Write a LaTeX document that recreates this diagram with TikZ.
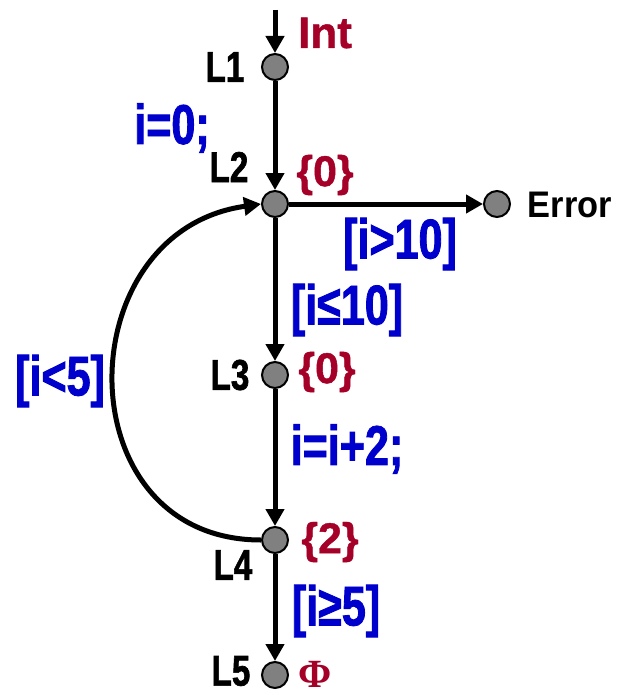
\documentclass[tikz,border=0pt]{standalone}
\usepackage{fontspec}
\setmainfont{Liberation Sans}
\newfontfamily\narfont{Liberation Sans}[FakeStretch=0.77,FakeBold=1.5]
\newfontfamily\midfont{Liberation Sans}[FakeStretch=0.93]
\newfontfamily\redfont{Liberation Sans}[FakeBold=1]
\newfontfamily\phifont{Liberation Serif}
\usetikzlibrary{arrows.meta}
\definecolor{dred}{RGB}{165,0,40}
\definecolor{dblue}{RGB}{0,0,205}
\definecolor{dotgray}{RGB}{128,128,128}
\tikzset{
  dot/.style={circle,draw=black,fill=dotgray,line width=2pt,minimum size=26pt,inner sep=0pt},
  edge/.style={line width=5pt,-{Triangle[length=17pt,width=18pt]}},
  loclab/.style={inner sep=0pt,font=\narfont\bfseries\fontsize{43}{43}\selectfont},
  guard/.style={inner sep=0pt,text=dblue,font=\narfont\bfseries\fontsize{56}{56}\selectfont},
  setlab/.style={inner sep=0pt,text=dred,font=\redfont\bfseries\fontsize{43}{43}\selectfont},
}
\begin{document}
\begin{tikzpicture}[x=1pt,y=-1pt]
\useasboundingbox (0,0) rectangle (618,695);
\node[dot] (L1) at (275,67) {};
\node[dot] (L2) at (275,204) {};
\node[dot] (L3) at (275,375) {};
\node[dot] (L4) at (275,540) {};
\node[dot] (L5) at (275,675) {};
\node[dot] (Err) at (497,204) {};
\coordinate (top) at (275,10);

\draw[edge] (top) -- (L1);
\draw[edge] (L1) -- (L2);
\draw[edge] (L2) -- (Err);
\draw[edge] (L2) -- (L3);
\draw[edge] (L3) -- (L4);
\draw[edge] (L4) -- (L5);
\draw[edge] (L4.west) .. controls +(180:197pt) and +(188:197pt) .. (L2.west);

\node[loclab] (tL1) at (225,67) {L1};
\node[loclab] (tL2) at (229,167) {L2};
\node[loclab] (tL3) at (230,375) {L3};
\node[loclab] (tL4) at (233,565) {L4};
\node[loclab] (tL5) at (231,671) {L5};
\node[inner sep=0pt,font=\midfont\bfseries\fontsize{37}{37}\selectfont] (tErr) at (570,205) {Error};

\node[setlab,font=\redfont\bfseries\fontsize{44}{44}\selectfont] (tInt) at (325,33) {Int};
\node[setlab] (s2) at (325,175) {\{0\}};
\node[setlab] (s3) at (327,372) {\{0\}};
\node[setlab] (s4) at (330,542) {\{2\}};
\node[setlab,font=\phifont\bfseries\fontsize{40}{40}\selectfont] (s5) at (315,674) {Φ};

\node[guard] (g1) at (172,128) {i=0;};
\node[guard] (g2) at (400,244) {[i>10]};
\node[guard] (g3) at (347,310) {[i≤10]};
\node[guard] (g4) at (60,381) {[i<5]};
\node[guard] (g5) at (347,449) {i=i+2;};
\node[guard] (g6) at (336,611) {[i≥5]};
\end{tikzpicture}
\end{document}
